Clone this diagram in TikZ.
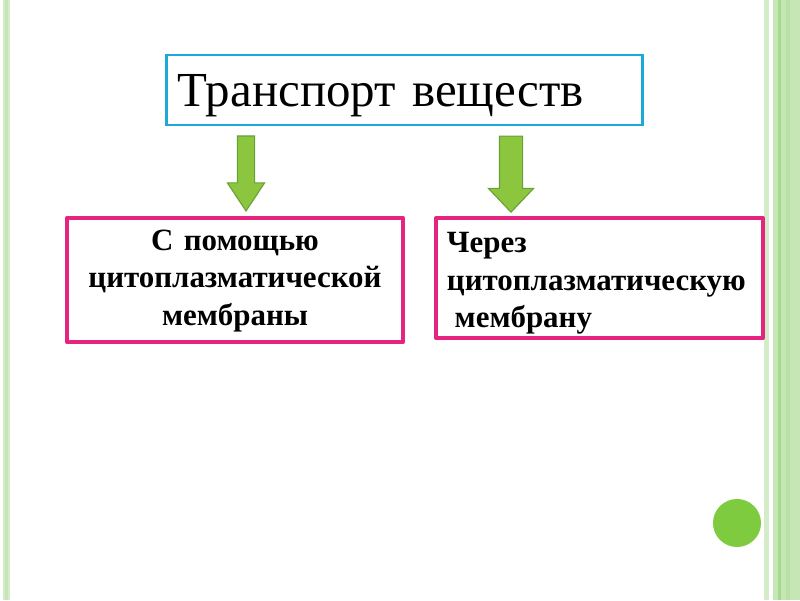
\documentclass[tikz,border=0pt]{standalone}
\usepackage{fontspec}
\setmainfont{Liberation Serif}
\usetikzlibrary{shapes.arrows}
\definecolor{goluboj}{HTML}{1DA8DA}
\definecolor{rozovyj}{HTML}{E4247E}
\definecolor{zelenyj}{HTML}{8CC63F}
\definecolor{zelenyjtemn}{HTML}{6AA136}
\definecolor{salatovyj}{HTML}{D4EDC8}
\definecolor{salatovyjsr}{HTML}{C6E6B6}
\definecolor{salatovyjtemn}{HTML}{A8DA8E}
\definecolor{krug}{HTML}{7FCB3F}

\begin{document}
\begin{tikzpicture}[x=0.025cm, y=-0.025cm,
  zagolovok/.style={draw=goluboj, line width=2.1pt, minimum height=1.75cm,
    text width=11.325cm, inner xsep=0.275cm, inner ysep=0pt, align=left,
    text height=23pt, text depth=0pt, font=\fontsize{34.8}{40}\selectfont},
  ramka/.style={draw=rozovyj, line width=2.8pt, line join=round, inner ysep=0pt,
    font=\bfseries\fontsize{22}{26.6}\selectfont},
  strelka/.style={single arrow, draw=zelenyjtemn, fill=zelenyj, line width=0.8pt,
    rotate=-90, inner xsep=0pt, anchor=tip}]

\useasboundingbox (0,0) rectangle (800,600);

% ================= ramki po krayam =================
\fill[salatovyj] (3,0) rectangle (10,600);
\fill[salatovyjsr] (5,0) rectangle (8,600);
\fill[salatovyj] (764,0) rectangle (769,600);
\fill[salatovyjsr] (773,0) rectangle (800,600);
\fill[salatovyjtemn] (778,0) rectangle (781,600);
\fill[salatovyjtemn!45!salatovyjsr] (786,0) rectangle (790,600);
\fill[krug] (737,523) circle (0.6cm);

% ================= zagolovok =================
\node[zagolovok] (transport) at (404.5,90) {Транспорт веществ};

% ================= strelki =================
\node[strelka, minimum height=1.875cm, inner ysep=0.2cm,
  single arrow head extend=0.25cm, single arrow tip angle=67] (s1) at (246,212) {};
\node[strelka, minimum height=1.9cm, inner ysep=0.275cm,
  single arrow head extend=0.275cm, single arrow tip angle=87] (s2) at (511,213) {};

% ================= dva sposoba =================
\node[ramka, minimum width=8.4cm, minimum height=3.1cm, text width=8.0cm,
  inner xsep=0.2cm, align=center, text height=15.5pt] (pomosch) at (235,280)
  {С помощью\\ цитоплазматической\\ мембраны};
\node[ramka, minimum width=8.175cm, minimum height=3.0cm, text width=7.625cm,
  inner xsep=0.275cm, align=left, text height=22pt] (cherez) at (599.5,278)
  {Через\\ цитоплазматическую\\ \hspace*{0.25em}мембрану};

\end{tikzpicture}
\end{document}
